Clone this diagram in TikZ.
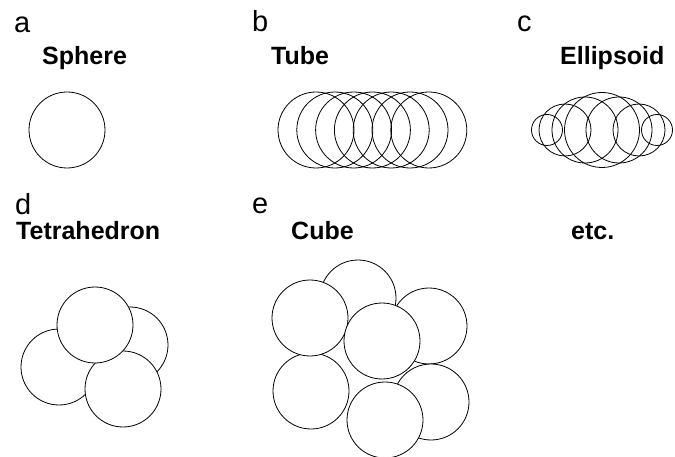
\documentclass[tikz,border=0pt]{standalone}
\usepackage{fontspec}
\setmainfont{Liberation Sans}
\begin{document}
\begin{tikzpicture}[x=1pt, y=-1pt,
		ball/.style={draw, line width=0.8pt, fill=white},
		ring/.style={draw, line width=0.8pt},
		letter/.style={anchor=base west, inner sep=0pt, font=\fontsize{29}{30}\selectfont},
		title/.style={anchor=base west, inner sep=0pt, font=\fontsize{25}{26}\selectfont\bfseries}]
		\useasboundingbox (0,0) rectangle (675,457);
		\clip (0,0) rectangle (675,457);
		% panel letters
		\node[letter] (la) at (14,33) {a};
		\node[letter] (lb) at (252,32) {b};
		\node[letter] (lc) at (517,32) {c};
		\node[letter] (ld) at (15,215) {d};
		\node[letter] (le) at (252,214) {e};
		% panel titles
		\node[title] (sphere) at (42,65) {Sphere};
		\node[title] (tube) at (271,65) {Tube};
		\node[title] (ellipsoid) at (560,65) {Ellipsoid};
		\node[title] (tetra) at (16,240) {Tetrahedron};
		\node[title] (cube) at (291,240) {Cube};
		\node[title] (etc) at (571,240) {etc.};
		% a: single sphere
		\draw[ring] (67,130) circle (38pt);
		% b: spheres along the tube
		\foreach \k in {0,...,6}
		{
			\draw[ring] (316+18.8*\k,130) circle (38pt);
		}
		% c: spheres filling the ellipsoid
		\foreach \dx/\r in {0/37.5, -17/33, 17/33, -37/26, 37/26, -55/15.5, 55/15.5}
		{
			\draw[ring] (602+\dx,130) circle (\r pt);
		}
		% d: tetrahedron, back spheres first
		\foreach \cx/\cy in {59/367, 130/345, 123/389, 95/325}
		{
			\draw[ball] (\cx,\cy) circle (38pt);
		}
		% e: cube, back spheres first
		\foreach \cx/\cy in {358/298, 429/326, 311/391, 431/402, 310/318, 382/341, 385/420}
		{
			\draw[ball] (\cx,\cy) circle (38pt);
		}
	\end{tikzpicture}
\end{document}
